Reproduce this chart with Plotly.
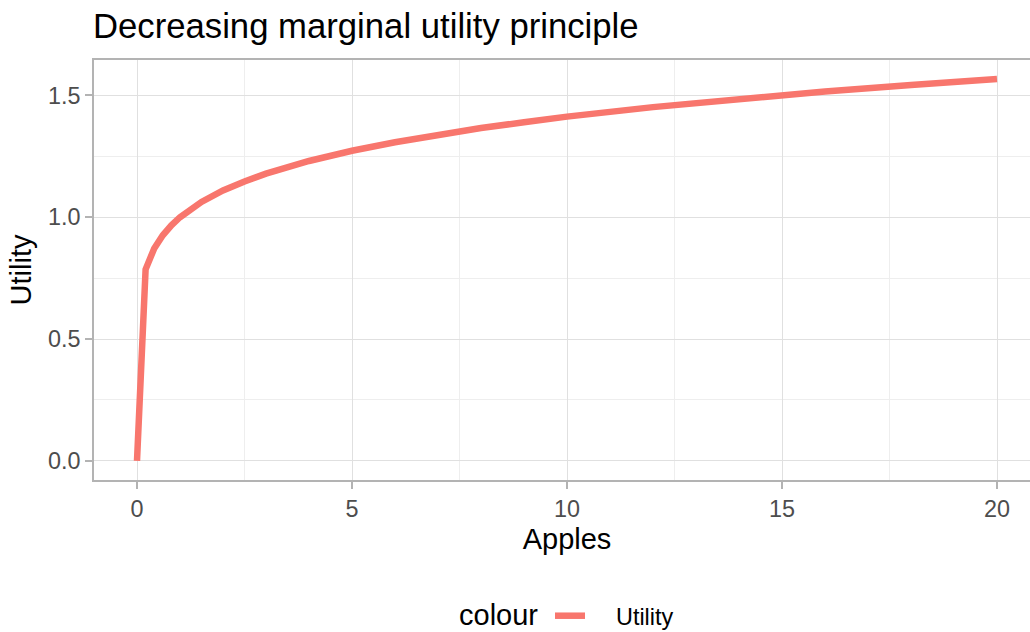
import plotly.graph_objects as go

# Values
apples = [0, 0.2, 0.4, 0.6, 0.8, 1.0, 1.5, 2, 2.5, 3, 4, 5, 6, 7, 8, 9, 10, 12, 14, 16, 18, 20]
utility = [0.0, 0.786, 0.872, 0.926, 0.967, 1.0, 1.063, 1.110, 1.147, 1.179, 1.231, 1.273,
           1.308, 1.339, 1.366, 1.390, 1.413, 1.452, 1.486, 1.516, 1.543, 1.567]
series_name = "Utility"
x_ticks = [0, 5, 10, 15, 20]
y_ticks = [0.0, 0.5, 1.0, 1.5]
y_tick_labels = ["0.0", "0.5", "1.0", "1.5"]

FONT = "Liberation Sans, Arial, sans-serif"
W, H = 1040, 632   # panel runs past the 1030px window edge, as in the reference
L, T, B = 94, 60, 152

fig = go.Figure()
fig.add_trace(go.Scatter(
    x=apples, y=utility, mode="lines", name="\u00a0\u00a0\u00a0\u00a0" + series_name,
    line=dict(color="#F8766D", width=6.5),
))

plot_h = H - T - B
plot_w = W - L


def px_x(fx):
    return (fx - L) / plot_w


def px_y(fy):
    return (H - B - fy) / plot_h


fig.update_layout(
    width=W, height=H,
    paper_bgcolor="white", plot_bgcolor="white",
    margin=dict(l=L, r=0, t=T, b=B, autoexpand=False),
    font=dict(family=FONT, color="black"),
    title=dict(text="Decreasing marginal utility principle", x=93/W, xref="container",
               xanchor="left", y=1 - 26/H, yref="container", yanchor="middle",
               font=dict(size=34.7, color="black")),
    showlegend=True,
    legend=dict(orientation="h", x=px_x(550), xanchor="left", y=px_y(616), yanchor="middle",
                font=dict(size=23.4, color="black"), bgcolor="rgba(0,0,0,0)"),
    annotations=[dict(text="colour", x=px_x(498), y=px_y(615), xref="paper", yref="paper",
                      showarrow=False, xanchor="center", yanchor="middle",
                      font=dict(size=29, color="black"))],
)

fig.update_xaxes(
    range=[-1, 21], tickvals=x_ticks, ticktext=[str(v) for v in x_ticks],
    showgrid=True, gridcolor="#e0e0e0", gridwidth=1.3,
    minor=dict(tickvals=[2.5, 7.5, 12.5, 17.5], showgrid=True, gridcolor="#eeeeee", gridwidth=1),
    zeroline=False, showline=True, linecolor="#b3b3b3", linewidth=1.5, mirror=True,
    ticks="outside", ticklen=7, tickcolor="#b3b3b3", tickwidth=1.5,
    tickfont=dict(size=23.4, color="#4d4d4d"),
    title=dict(text="Apples", font=dict(size=29, color="black"), standoff=8),
    automargin=False,
)
fig.update_yaxes(
    range=[-0.0784, 1.6454], tickvals=y_ticks, ticktext=y_tick_labels,
    showgrid=True, gridcolor="#e0e0e0", gridwidth=1.3,
    minor=dict(tickvals=[0.25, 0.75, 1.25], showgrid=True, gridcolor="#eeeeee", gridwidth=1),
    zeroline=False, showline=True, linecolor="#b3b3b3", linewidth=1.5, mirror=False,
    ticks="outside", ticklen=7, tickcolor="#b3b3b3", tickwidth=1.5,
    tickfont=dict(size=23.4, color="#4d4d4d"),
    title=dict(text="Utility", font=dict(size=29, color="black"), standoff=8),
    automargin=False,
)

fig.write_html("out.html", config={"displayModeBar": False},
               post_script="document.body.style.margin='0';document.body.style.overflow='hidden';")
